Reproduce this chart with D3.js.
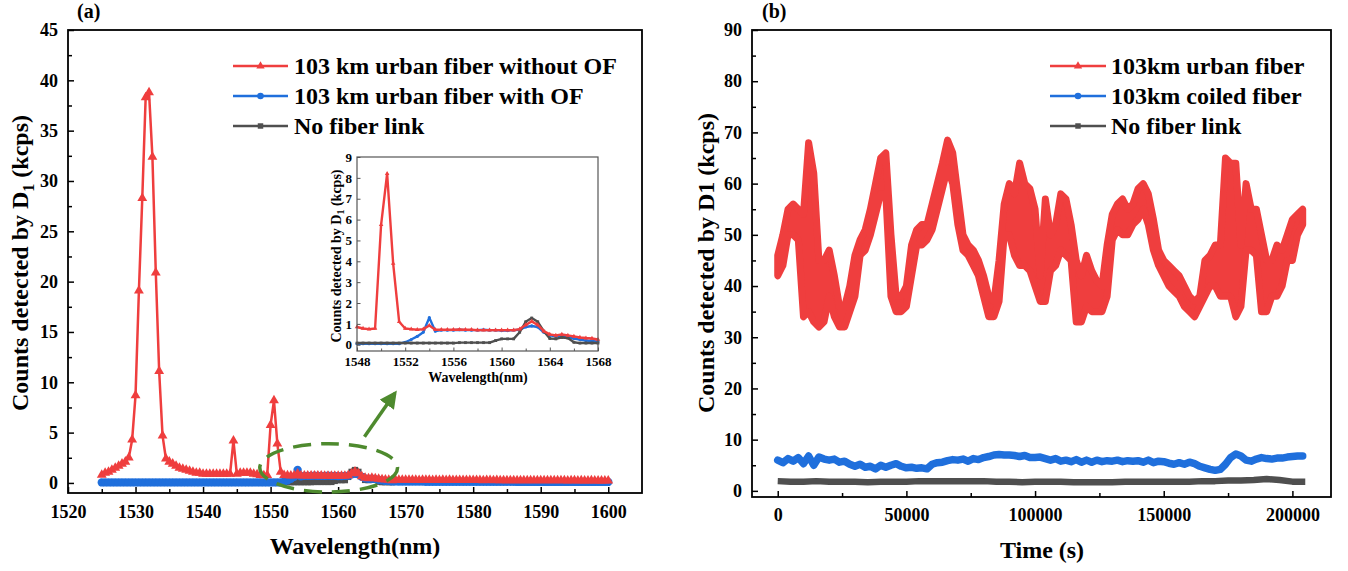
<!DOCTYPE html>
<html>
<head>
<meta charset="utf-8">
<script src="https://cdn.jsdelivr.net/npm/d3@7"></script>
<style>
body { margin: 0; background: #fff; }
svg text { font-family: "Liberation Serif", "Times New Roman", serif; font-weight: bold; fill: #000; }
</style>
</head>
<body>
<svg width="1348" height="571"></svg>
<script>
// ---------- data, panel (a): spectrum, 0.5 nm steps from 1525 to 1600 ----------
var wavelength = d3.range(1525, 1600.001, 0.5);

var redSpectrum = [
  0.8, 1.0, 1.1, 1.3, 1.5, 1.7, 1.9, 2.1, 2.5, 4.3,
  8.7, 19.1, 28.3, 38.3, 38.8, 32.4, 20.9, 11.1, 4.7, 2.4,
  2.1, 1.9, 1.7, 1.5, 1.4, 1.3, 1.2, 1.1, 1.0, 1.0,
  0.9, 0.9, 0.9, 0.9, 0.9, 0.9, 0.9, 0.9, 0.9, 4.2,
  0.9, 1.0, 1.0, 1.0, 1.0, 0.9, 0.85, 0.78, 0.75, 0.78,
  5.75, 8.2, 3.9, 1.1, 0.78, 0.75, 0.72, 0.75, 0.92, 0.72,
  0.72, 0.72, 0.72, 0.73, 0.72, 0.72, 0.7, 0.7, 0.7, 0.7,
  0.7, 0.7, 0.7, 0.75, 0.95, 1.12, 0.95, 0.65, 0.5, 0.45,
  0.5, 0.45, 0.4, 0.35, 0.32, 0.3, 0.25, 0.3, 0.3, 0.3,
  0.3, 0.29, 0.3, 0.3, 0.28, 0.3, 0.29, 0.3, 0.28, 0.3,
  0.28, 0.3, 0.28, 0.29, 0.28, 0.27, 0.28, 0.28, 0.27, 0.28,
  0.27, 0.28, 0.27, 0.26, 0.27, 0.27, 0.26, 0.27, 0.26, 0.26,
  0.26, 0.25, 0.26, 0.26, 0.25, 0.25, 0.26, 0.25, 0.25, 0.24,
  0.25, 0.24, 0.25, 0.24, 0.24, 0.25, 0.24, 0.24, 0.23, 0.24,
  0.24, 0.23, 0.24, 0.23, 0.23, 0.24, 0.23, 0.22, 0.23, 0.23,
  0.22
];

var blueSpectrum = [
  0.05, 0.05, 0.05, 0.05, 0.05, 0.05, 0.05, 0.05, 0.05, 0.05,
  0.05, 0.05, 0.05, 0.05, 0.05, 0.05, 0.05, 0.05, 0.05, 0.05,
  0.05, 0.05, 0.05, 0.05, 0.05, 0.05, 0.05, 0.05, 0.05, 0.05,
  0.05, 0.05, 0.05, 0.05, 0.05, 0.05, 0.05, 0.05, 0.05, 0.05,
  0.05, 0.05, 0.05, 0.05, 0.05, 0.05, 0.05, 0.05, 0.05, 0.05,
  0.05, 0.05, 0.05, 0.05, 0.12, 0.25, 0.4, 0.6, 1.3, 0.65,
  0.7, 0.7, 0.7, 0.72, 0.7, 0.7, 0.7, 0.72, 0.7, 0.7,
  0.68, 0.68, 0.7, 0.72, 0.85, 0.9, 0.85, 0.6, 0.45, 0.4,
  0.42, 0.38, 0.3, 0.25, 0.2, 0.18, 0.15, 0.15, 0.14, 0.14,
  0.13, 0.13, 0.13, 0.13, 0.13, 0.13, 0.12, 0.12, 0.12, 0.12,
  0.12, 0.12, 0.12, 0.12, 0.12, 0.12, 0.12, 0.12, 0.11, 0.11,
  0.11, 0.11, 0.11, 0.11, 0.11, 0.11, 0.11, 0.11, 0.11, 0.11,
  0.11, 0.11, 0.11, 0.1, 0.1, 0.1, 0.1, 0.1, 0.1, 0.1,
  0.1, 0.1, 0.1, 0.1, 0.1, 0.1, 0.1, 0.1, 0.1, 0.1,
  0.1, 0.1, 0.1, 0.1, 0.1, 0.1, 0.1, 0.1, 0.1, 0.1,
  0.1
];

// no fiber link was only measured around the inset window
var grayWavelength = d3.range(1548, 1568.001, 0.5);
var graySpectrum = [
  0.08, 0.08, 0.08, 0.08, 0.08, 0.08, 0.08, 0.08, 0.08, 0.08,
  0.08, 0.08, 0.08, 0.08, 0.08, 0.08, 0.08, 0.1, 0.1, 0.1,
  0.1, 0.1, 0.1, 0.2, 0.28, 0.28, 0.28, 0.6, 1.1, 1.28,
  1.1, 0.65, 0.3, 0.28, 0.35, 0.32, 0.12, 0.08, 0.08, 0.08,
  0.08
];

var seriesA = ["103 km urban fiber without OF", "103 km urban fiber with OF", "No fiber link"];

// ---------- data, panel (b): counts vs time, 2000 s steps ----------
var timeB = d3.range(0, 204001, 2000);
var redLow = [
  42, 44, 50, 50, 49, 34, 35, 33, 32, 33,
  38, 34, 32, 32, 35, 38, 46, 47, 50, 54,
  58, 58, 38, 35, 35, 36, 42, 48, 48, 49,
  51, 55, 59, 63, 60, 52, 47, 46, 44, 42,
  38, 34, 34, 37, 50, 50, 46, 44, 44, 43,
  40, 37, 37, 43, 44, 47, 46, 45, 33, 33,
  36, 35, 35, 35, 38, 49, 51, 50, 50, 52,
  53, 55, 52, 47, 44, 42, 40, 39, 38, 36,
  35, 34, 36, 38, 40, 40, 38, 38, 38, 34,
  36, 47, 47, 46, 35, 35, 38, 38, 40, 45,
  45, 50, 52
];
var redHigh = [
  46, 50, 55, 56, 55, 54, 68, 62, 45, 45,
  47, 42, 36, 36, 40, 46, 49, 51, 55, 60,
  65, 66, 50, 38, 38, 40, 48, 51, 52, 52,
  56, 60, 64, 68.5, 66, 58, 50, 48, 47, 45,
  42, 38, 37, 45, 56, 60, 58, 64, 60, 59,
  55, 42, 57, 50, 52, 58, 57, 52, 45, 42,
  46, 43, 41, 40, 48, 54, 56, 57, 55, 56,
  59, 60, 58, 53, 47, 45, 44, 43, 42, 40,
  38, 37, 38, 45, 46, 48, 48, 65, 64, 64,
  48, 60, 55, 55, 50, 45, 45, 48, 47, 50,
  53, 54, 55
];
var blueCounts = [
  6.0, 5.5, 6.3, 5.8, 6.5, 5.3, 6.8, 5.0, 6.6, 6.2,
  6.0, 6.2, 5.6, 5.8, 5.2, 4.8, 5.2, 4.6, 4.8, 4.3,
  5.0, 4.6, 5.0, 5.3, 4.8, 4.5, 4.6, 4.4, 4.5, 4.3,
  5.2, 5.5, 5.6, 5.9, 6.1, 6.0, 6.2, 5.8, 6.3, 6.1,
  6.5, 6.7, 7.0, 7.1, 7.0, 7.0, 6.9, 6.7, 6.9, 6.5,
  6.5, 6.6, 6.3, 6.0, 6.3, 5.8, 6.0, 5.7, 6.1, 5.6,
  6.0, 5.6, 6.0, 5.7, 5.9, 5.8, 6.0, 5.7, 5.9, 5.8,
  5.9, 5.6, 6.0, 5.5, 5.8, 5.7, 5.4, 5.2, 5.5, 5.2,
  5.6, 5.3, 4.8, 4.5, 4.2, 4.0, 4.2, 5.2, 6.5, 7.2,
  6.8, 6.0, 5.8, 6.2, 6.5, 6.3, 6.2, 6.4, 6.4, 6.6,
  6.7, 6.8, 6.8
];
var grayTime = d3.range(0, 205001, 5000);
var grayCounts = [
  1.9, 1.8, 1.8, 1.9, 1.8, 1.8, 1.8, 1.7, 1.8, 1.8,
  1.8, 1.9, 1.9, 1.9, 1.9, 1.9, 1.9, 1.8, 1.8, 1.7,
  1.8, 1.8, 1.8, 1.7, 1.7, 1.7, 1.7, 1.8, 1.8, 1.8,
  1.8, 1.8, 1.8, 1.9, 1.9, 2.0, 2.0, 2.1, 2.3, 2.1,
  1.8, 1.8
];
var seriesB = ["103km urban fiber", "103km coiled fiber", "No fiber link"];

var red = "#ef3e3e", blue = "#1f6fdc", gray = "#4f4f4f", green = "#4e8a2e";

var svg = d3.select("svg");

// ---------- helpers ----------
function drawAxes(g, x, y, o) {
  var x0 = x.range()[0], x1 = x.range()[1], yb = y.range()[0], yt = y.range()[1];
  var fmt = d3.format("d");

  var xm = g.append("g").attr("transform", "translate(0," + yb + ")")
    .call(d3.axisBottom(x).tickValues(o.xMinor).tickSize(-o.minor).tickFormat(""));
  var xa = g.append("g").attr("transform", "translate(0," + yb + ")")
    .call(d3.axisBottom(x).tickValues(o.xTicks).tickSize(-o.major).tickFormat(fmt));
  var ym = g.append("g").attr("transform", "translate(" + x0 + ",0)")
    .call(d3.axisLeft(y).tickValues(o.yMinor).tickSize(-o.minor).tickFormat(""));
  var ya = g.append("g").attr("transform", "translate(" + x0 + ",0)")
    .call(d3.axisLeft(y).tickValues(o.yTicks).tickSize(-o.major).tickPadding(o.ypad).tickFormat(fmt));

  [xm, xa, ym, ya].forEach(function (a) {
    a.select(".domain").remove();
    a.selectAll("line").attr("stroke", o.color).attr("stroke-width", o.tickWidth);
  });
  xa.selectAll("text").attr("y", o.xlab).attr("dy", null).style("font-size", o.font + "px");
  ya.selectAll("text").style("font-size", o.font + "px");

  g.append("rect")
    .attr("x", x0).attr("y", yt)
    .attr("width", x1 - x0).attr("height", yb - yt)
    .attr("fill", "none").attr("stroke", o.color).attr("stroke-width", o.frame);
}

function legend(g, items, o) {
  items.forEach(function (it, i) {
    var yy = o.y + i * o.step;
    g.append("line").attr("x1", o.x1).attr("x2", o.x2).attr("y1", yy).attr("y2", yy)
      .attr("stroke", it.color).attr("stroke-width", 2.5);
    g.append("path").attr("d", d3.symbol(it.shape, it.size)())
      .attr("transform", "translate(" + (o.x1 + o.x2) / 2 + "," + yy + ")")
      .attr("fill", it.color);
    g.append("text").attr("x", o.tx).attr("y", yy).attr("dy", "0.35em")
      .style("font-size", "24px").text(it.label);
  });
}

// ================= panel (a) =================
var xA = d3.scaleLinear().domain([1520, 1605]).range([68, 642]);
var yA = d3.scaleLinear().domain([-1, 45]).range([493, 30]);
var gA = svg.append("g");

function pts(xs, ys) { return xs.map(function (d, i) { return [d, ys[i]]; }); }
var redA = pts(wavelength, redSpectrum);
var blueA = pts(wavelength, blueSpectrum);
var grayA = pts(grayWavelength, graySpectrum);

function plotSeries(g, data, x, y, color, shape, size, lw) {
  var line = d3.line().x(function (d) { return x(d[0]); }).y(function (d) { return y(d[1]); });
  g.append("path").datum(data).attr("d", line)
    .attr("fill", "none").attr("stroke", color).attr("stroke-width", lw).attr("stroke-linejoin", "round");
  g.selectAll(null).data(data).enter().append("path")
    .attr("d", d3.symbol(shape, size)())
    .attr("transform", function (d) { return "translate(" + x(d[0]) + "," + y(d[1]) + ")"; })
    .attr("fill", color);
}

plotSeries(gA, grayA, xA, yA, gray, d3.symbolSquare, 40, 2.5);
plotSeries(gA, blueA, xA, yA, blue, d3.symbolCircle, 55, 2.5);
plotSeries(gA, redA, xA, yA, red, d3.symbolTriangle, 42, 2.5);

drawAxes(gA, xA, yA, {
  xTicks: d3.range(1520, 1601, 10), xMinor: d3.range(1525, 1600, 10),
  yTicks: d3.range(0, 46, 5), yMinor: d3.range(2.5, 45, 5),
  major: 6, minor: 4, tickWidth: 1.5, frame: 1.8, color: "#000",
  font: 18, xlab: 25, ypad: 10
});

gA.append("text").attr("x", 355).attr("y", 554).attr("text-anchor", "middle")
  .style("font-size", "24px").text("Wavelength(nm)");
var ytA = gA.append("text").attr("transform", "translate(28,263) rotate(-90)")
  .attr("text-anchor", "middle").style("font-size", "24px");
ytA.append("tspan").text("Counts detected by D");
ytA.append("tspan").attr("dy", 6).style("font-size", "16px").text("1");
ytA.append("tspan").attr("dy", -6).text(" (kcps)");
gA.append("text").attr("x", 77).attr("y", 18).style("font-size", "20px").text("(a)");

legend(gA, [
  { label: seriesA[0], color: red, shape: d3.symbolTriangle, size: 30 },
  { label: seriesA[1], color: blue, shape: d3.symbolCircle, size: 34 },
  { label: seriesA[2], color: gray, shape: d3.symbolSquare, size: 30 }
], { x1: 233, x2: 288, tx: 294, y: 66, step: 30 });

// zoom annotation (dashed ellipse + arrow), placed in data units
var cxE = 1558.6, cyE = 1.5, rxE = 10.2, ryE = 2.4;
gA.append("ellipse")
  .attr("cx", xA(cxE)).attr("cy", yA(cyE))
  .attr("rx", xA(cxE + rxE) - xA(cxE)).attr("ry", yA(cyE) - yA(cyE + ryE))
  .attr("fill", "none").attr("stroke", green).attr("stroke-width", 3.5)
  .attr("stroke-dasharray", "18,10");
svg.append("defs").append("marker").attr("id", "arrowHead")
  .attr("viewBox", "0 0 10 10").attr("refX", 8).attr("refY", 5)
  .attr("markerWidth", 5).attr("markerHeight", 5).attr("orient", "auto")
  .append("path").attr("d", "M0,0L10,5L0,10Z").attr("fill", green);
gA.append("line")
  .attr("x1", xA(1563.9)).attr("y1", yA(4.6))
  .attr("x2", xA(1568.4)).attr("y2", yA(8.9))
  .attr("stroke", green).attr("stroke-width", 3.5).attr("marker-end", "url(#arrowHead)");

// ---------- inset ----------
var xI = d3.scaleLinear().domain([1548, 1568]).range([357, 598]);
var yI = d3.scaleLinear().domain([-0.3, 9]).range([351, 157]);
var gI = svg.append("g");
gI.append("rect").attr("x", 357).attr("y", 157).attr("width", 241).attr("height", 194).attr("fill", "#fff");
var inWin = function (d) { return d[0] >= 1548 && d[0] <= 1568; };
plotSeries(gI, blueA.filter(inWin), xI, yI, blue, d3.symbolCircle, 8, 2.4);
plotSeries(gI, grayA, xI, yI, gray, d3.symbolSquare, 8, 2.4);
plotSeries(gI, redA.filter(inWin), xI, yI, red, d3.symbolTriangle, 9, 2.4);

drawAxes(gI, xI, yI, {
  xTicks: d3.range(1548, 1569, 4), xMinor: d3.range(1550, 1568, 4),
  yTicks: d3.range(0, 10, 1), yMinor: [],
  major: 3.5, minor: 2.5, tickWidth: 1, frame: 1.2, color: "#555",
  font: 13, xlab: 15, ypad: 5
});
gI.append("text").attr("x", 478).attr("y", 382).attr("text-anchor", "middle")
  .style("font-size", "14px").text("Wavelength(nm)");
var ytI = gI.append("text").attr("transform", "translate(341,256) rotate(-90)")
  .attr("text-anchor", "middle").style("font-size", "14px");
ytI.append("tspan").text("Counts detected by D");
ytI.append("tspan").attr("dy", 3).style("font-size", "10px").text("1");
ytI.append("tspan").attr("dy", -3).text(" (kcps)");

// ================= panel (b) =================
var xB = d3.scaleLinear().domain([-10000, 215000]).range([752, 1331]);
var yB = d3.scaleLinear().domain([-1.2, 90]).range([497, 30]);
var gB = svg.append("g");

var redBand = timeB.map(function (t, i) { return { t: t, lo: redLow[i], hi: redHigh[i] }; });
var area = d3.area().x(function (d) { return xB(d.t); })
  .y0(function (d) { return yB(d.lo); }).y1(function (d) { return yB(d.hi); });
gB.append("path").datum(redBand).attr("d", area)
  .attr("fill", red).attr("stroke", red).attr("stroke-width", 7).attr("stroke-linejoin", "round");

var lineB = d3.line().x(function (d) { return xB(d[0]); }).y(function (d) { return yB(d[1]); });
gB.append("path").datum(pts(timeB, blueCounts)).attr("d", lineB)
  .attr("fill", "none").attr("stroke", blue).attr("stroke-width", 7.5)
  .attr("stroke-linejoin", "round").attr("stroke-linecap", "round");
gB.append("path").datum(pts(grayTime, grayCounts)).attr("d", lineB)
  .attr("fill", "none").attr("stroke", gray).attr("stroke-width", 6.5)
  .attr("stroke-linejoin", "round");

drawAxes(gB, xB, yB, {
  xTicks: d3.range(0, 200001, 50000), xMinor: d3.range(25000, 200000, 50000),
  yTicks: d3.range(0, 91, 10), yMinor: d3.range(5, 90, 10),
  major: 6, minor: 4, tickWidth: 1.5, frame: 1.8, color: "#000",
  font: 18, xlab: 24, ypad: 10
});
gB.append("text").attr("x", 1042).attr("y", 558).attr("text-anchor", "middle")
  .style("font-size", "24px").text("Time (s)");
gB.append("text").attr("transform", "translate(714,263) rotate(-90)")
  .attr("text-anchor", "middle").style("font-size", "24px").text("Counts detected by D1 (kcps)");
gB.append("text").attr("x", 762).attr("y", 18).style("font-size", "20px").text("(b)");

legend(gB, [
  { label: seriesB[0], color: red, shape: d3.symbolTriangle, size: 30 },
  { label: seriesB[1], color: blue, shape: d3.symbolCircle, size: 34 },
  { label: seriesB[2], color: gray, shape: d3.symbolSquare, size: 30 }
], { x1: 1050, x2: 1106, tx: 1111, y: 66, step: 30 });
</script>
</body>
</html>
